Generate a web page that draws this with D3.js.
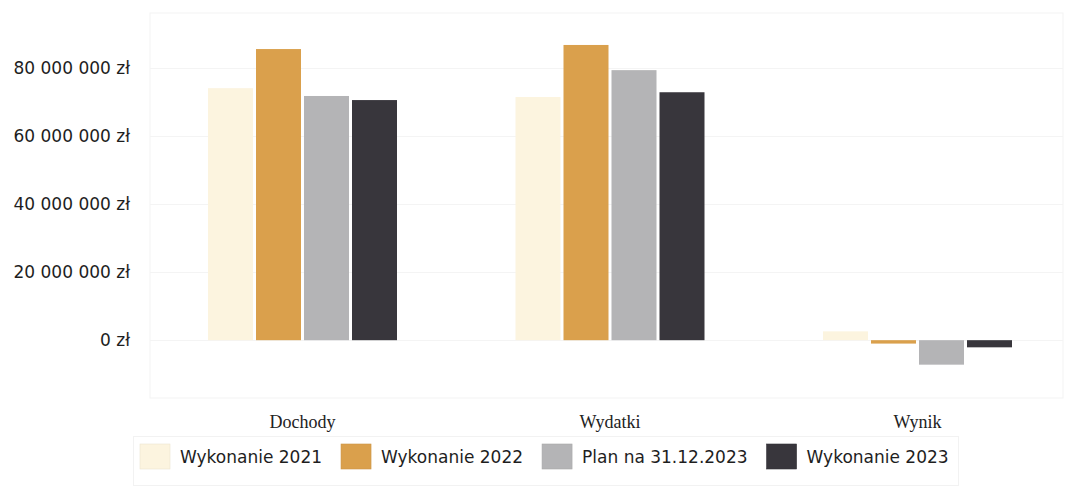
<!DOCTYPE html>
<html><head><meta charset="utf-8">
<script src="https://cdn.jsdelivr.net/npm/d3@7"></script>
<style>body{margin:0;background:#fff}svg{display:block}</style>
</head><body><svg id="c" width="1065" height="494"></svg>
<script>
const categories = ["Dochody", "Wydatki", "Wynik"];
const seriesNames = ["Wykonanie 2021", "Wykonanie 2022", "Plan na 31.12.2023", "Wykonanie 2023"];
const seriesColors = ["#fcf4df", "#daa04c", "#b4b4b6", "#38363c"];
const wykonanie2021 = [74100000, 71500000, 2600000];
const wykonanie2022 = [85600000, 86800000, -1000000];
const plan2023 = [71800000, 79400000, -7200000];
const wykonanie2023 = [70600000, 72900000, -2100000];
const yTicks = [0, 20000000, 40000000, 60000000, 80000000];
const seriesValues = [wykonanie2021, wykonanie2022, plan2023, wykonanie2023];

(function () {
const svg = d3.select("#c");
const pLeft = 150, pRight = 1063, pTop = 13, pBottom = 398;

const x0 = d3.scaleBand().domain(categories).range([148.75, 1071.25]).padding(0);
const bw = x0.bandwidth();
const pIn = 0.0625;
const pOut = (bw / 48 - 4 + pIn) / 2;
const x1 = d3.scaleBand().domain(d3.range(4)).range([0, bw]).paddingInner(pIn).paddingOuter(pOut);
const y = d3.scaleLinear().domain([-17000000, 96200000]).range([pBottom, pTop]);

// panel
svg.append("rect").attr("x", pLeft).attr("y", pTop).attr("width", pRight - pLeft).attr("height", pBottom - pTop)
  .attr("fill", "none").attr("stroke", "#f3f3f3").attr("stroke-width", 1);

// grid
svg.append("g").selectAll("line").data(yTicks).join("line")
  .attr("x1", pLeft).attr("x2", pRight)
  .attr("y1", d => Math.round(y(d)) + 0.5).attr("y2", d => Math.round(y(d)) + 0.5)
  .attr("stroke", "#f4f4f4");

const fmt = v => d3.format(",")(v).replace(/,/g, " ") + " zł";
const yAxis = d3.axisLeft(y).tickValues(yTicks).tickFormat(fmt).tickSize(0).tickPadding(0);
const gy = svg.append("g").attr("transform", "translate(130,0)").call(yAxis);
gy.select(".domain").remove();
gy.selectAll("text").attr("font-family", "DejaVu Sans").attr("font-size", 17).attr("fill", "#1e1e1e");

// bars
const groups = svg.append("g").selectAll("g").data(categories).join("g")
  .attr("transform", d => `translate(${x0(d)},0)`);
groups.selectAll("rect").data((d, i) => seriesValues.map((s, k) => ({k, v: s[i]}))).join("rect")
  .attr("x", d => x1(d.k)).attr("width", x1.bandwidth())
  .attr("y", d => y(Math.max(0, d.v))).attr("height", d => Math.abs(y(d.v) - y(0)))
  .attr("fill", d => seriesColors[d.k]);

// x axis labels
const xAxis = d3.axisBottom(x0).tickSize(0).tickPadding(0);
const gx = svg.append("g").attr("transform", "translate(0,415)").call(xAxis);
gx.select(".domain").remove();
gx.selectAll("text").attr("font-family", "Liberation Serif").attr("font-size", 18).attr("fill", "#222");

// legend
svg.append("rect").attr("x", 133.5).attr("y", 436.5).attr("width", 825).attr("height", 49)
  .attr("fill", "none").attr("stroke", "#f2f2f2");
const lg = svg.append("g");
let lx = 140;
seriesNames.forEach((n, i) => {
  lg.append("rect").attr("x", lx).attr("y", 444).attr("width", 30).attr("height", 25)
    .attr("fill", seriesColors[i]).attr("stroke", d3.color(seriesColors[i]).darker(0.2)).attr("stroke-width", 0.6);
  const t = lg.append("text").attr("x", lx + 40).attr("y", 463).text(n)
    .attr("font-family", "DejaVu Sans").attr("font-size", 17).attr("fill", "#1e1e1e");
  lx += 40 + t.node().getComputedTextLength() + 19;
});
})();
</script></body></html>
